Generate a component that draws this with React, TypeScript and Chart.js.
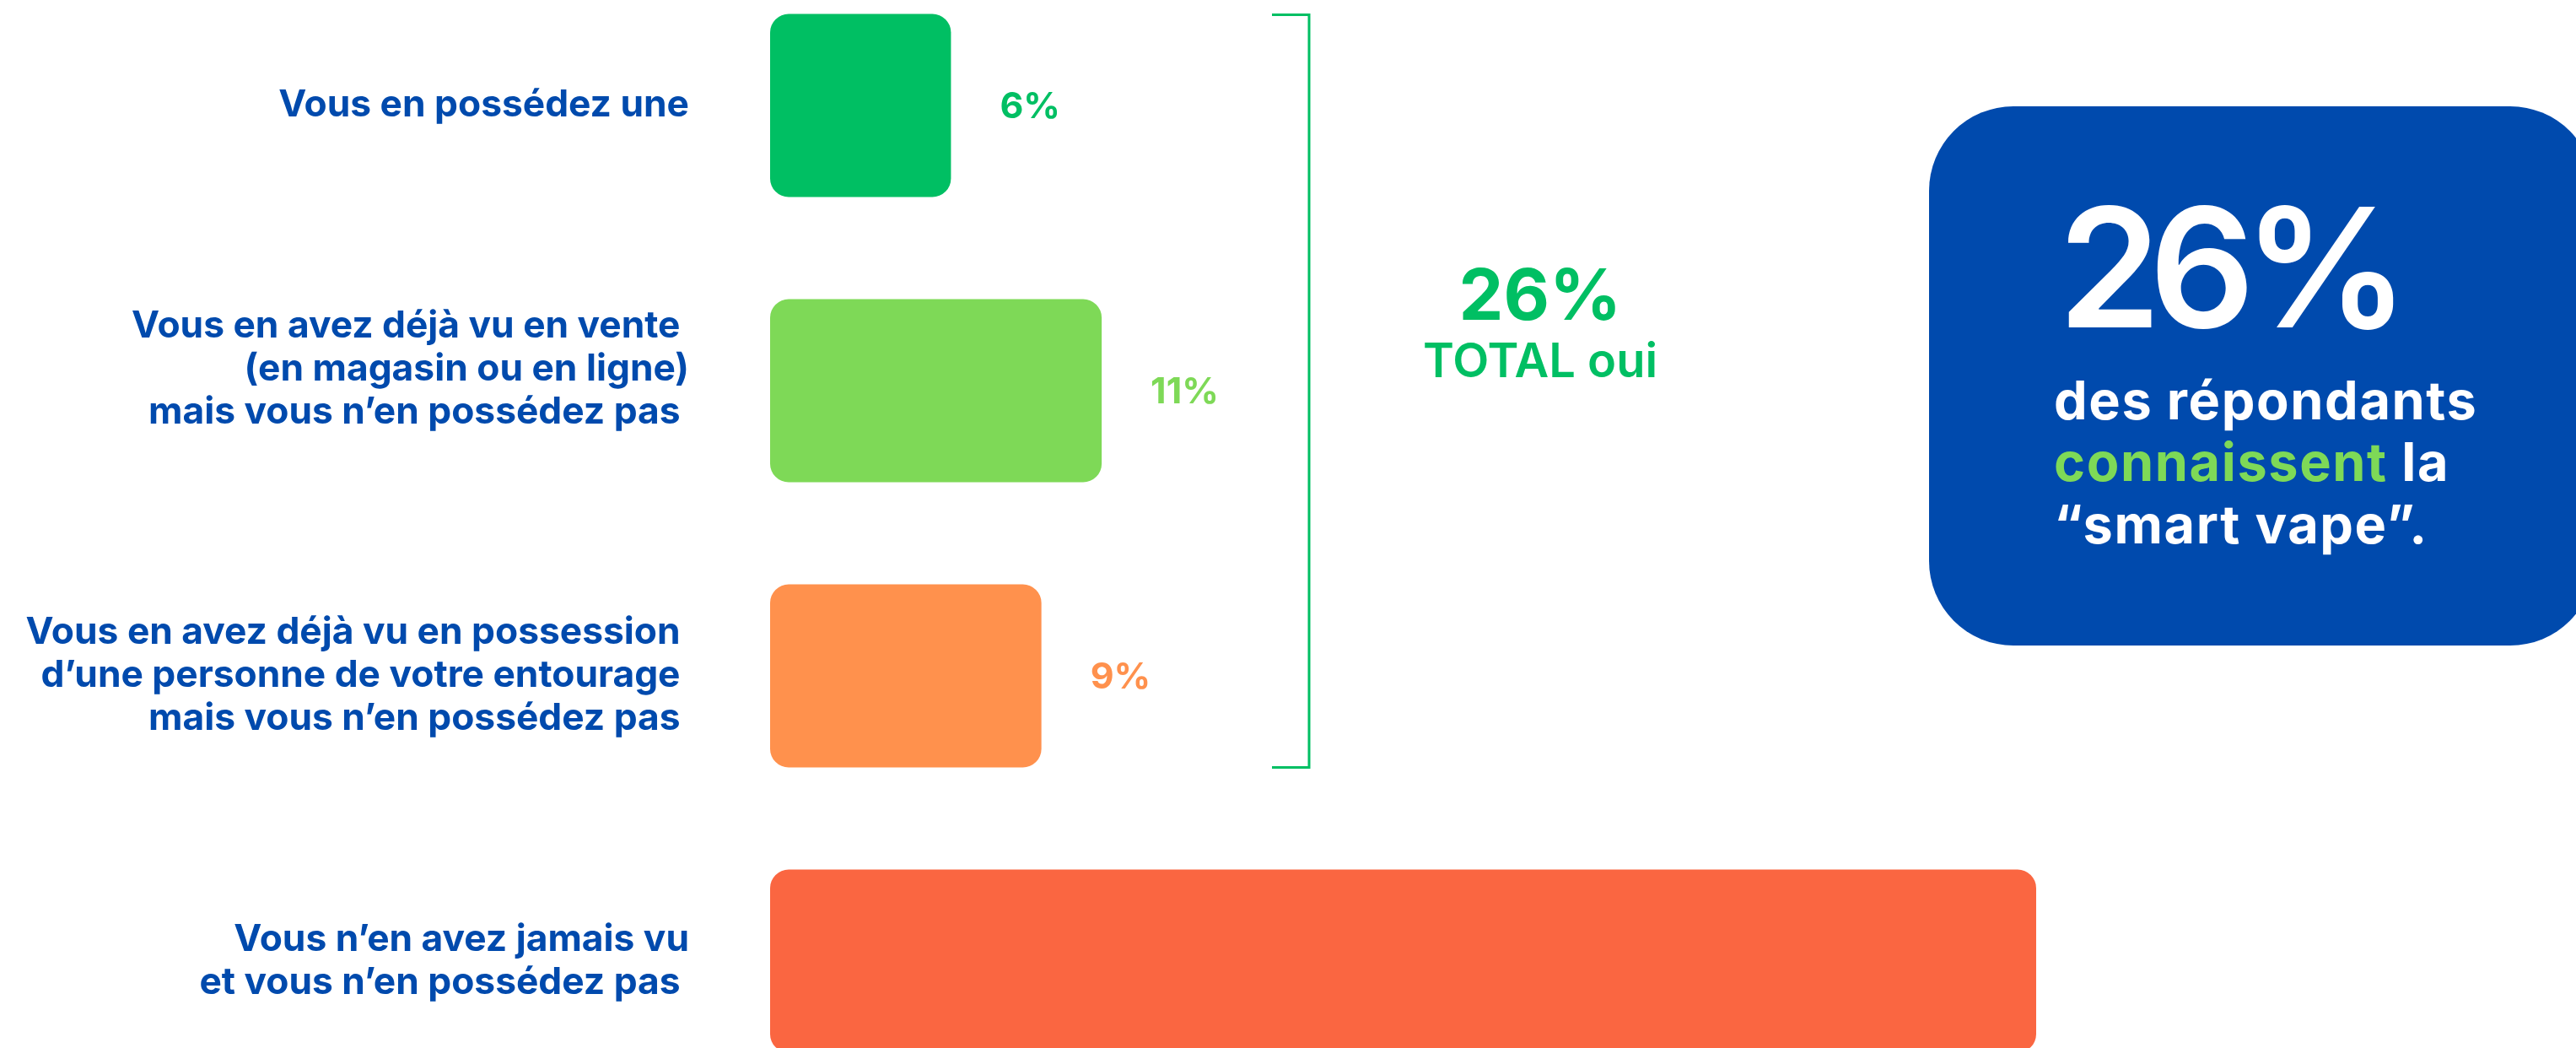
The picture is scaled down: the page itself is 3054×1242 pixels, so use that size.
import { useEffect, useRef } from 'react';
import { Chart, registerables } from 'chart.js';

Chart.register(...registerables);

// ---------- data ----------
const categories: string[][] = [
  ['Vous en possédez une'],
  ['Vous en avez déjà vu en vente ', '(en magasin ou en ligne)', 'mais vous n’en possédez pas ', ''],
  ['Vous en avez déjà vu en possession ', 'd’une personne de votre entourage ', 'mais vous n’en possédez pas '],
  ['Vous n’en avez jamais vu', 'et vous n’en possédez pas '],
];
const shares = [6, 11, 9, 74];
const valueLabels = ['6%', '11%', '9%', ''];
const barColors = ['#00BF63', '#7ED957', '#FF914D', '#FA6641'];
const totalYesValue = '26%';
const totalYesCaption = 'TOTAL oui';
const calloutValue = '26%';
const calloutLine1 = 'des répondants';
const calloutLine2Green = 'connaissent';
const calloutLine2Rest = ' la';
const calloutLine3 = '“smart vape”.';

// axis is capped (broken-axis style): longer bars stop at the cap
const X_MAX = 42;

const BLUE = '#004AAD';
const GREEN = '#00BF63';
const LIGHT_GREEN = '#7ED957';
const FONT = 'Inter, "DejaVu Sans", sans-serif';

const W = 3054;
const H = 1352;
const SHIFT = 44; // canvas sits 44px above the page top

const overlay = {
  id: 'overlay',
  afterDatasetsDraw(chart: any) {
    const ctx: any = chart.ctx;
    const els: any[] = chart.getDatasetMeta(0).data;
    ctx.save();

    // value labels
    ctx.font = `700 43px ${FONT}`;
    ctx.textAlign = 'left';
    ctx.textBaseline = 'middle';
    els.forEach((el, i) => {
      if (!valueLabels[i]) return;
      ctx.fillStyle = barColors[i];
      ctx.fillText(valueLabels[i], el.x + 58, el.y + 2);
    });

    // bracket around the "yes" bars
    const top = els[0].y - els[0].height / 2 + 1;
    const bottom = els[2].y + els[2].height / 2;
    const bx = 1552;
    ctx.strokeStyle = GREEN;
    ctx.lineWidth = 3;
    ctx.beginPath();
    ctx.moveTo(bx - 44, top);
    ctx.lineTo(bx, top);
    ctx.lineTo(bx, bottom);
    ctx.lineTo(bx - 44, bottom);
    ctx.stroke();

    // total text
    const mid = (top + bottom) / 2;
    ctx.textAlign = 'center';
    ctx.textBaseline = 'alphabetic';
    ctx.fillStyle = GREEN;
    ctx.font = `700 84px ${FONT}`;
    ctx.fillText(totalYesValue, 1826, mid - 85);
    ctx.font = `600 56px ${FONT}`;
    ctx.fillText(totalYesCaption, 1826, mid - 17);

    // callout box
    const bxL = 2287, byT = 126 + SHIFT, bxR = 3076, byB = 765 + SHIFT, r = 100;
    ctx.fillStyle = BLUE;
    ctx.beginPath();
    ctx.roundRect(bxL, byT, bxR - bxL, byB - byT, r);
    ctx.fill();

    ctx.textAlign = 'left';
    ctx.fillStyle = '#FFFFFF';
    ctx.font = `600 196px ${FONT}`;
    ctx.letterSpacing = '-14px';
    ctx.fillText(calloutValue, 2440, 388 + SHIFT);

    ctx.font = `700 63px ${FONT}`;
    ctx.letterSpacing = '1.6px';
    const tx = 2435;
    ctx.fillText(calloutLine1, tx, 497 + SHIFT);
    ctx.fillStyle = LIGHT_GREEN;
    ctx.fillText(calloutLine2Green, tx, 570 + SHIFT);
    const gw = ctx.measureText(calloutLine2Green).width;
    ctx.fillStyle = '#FFFFFF';
    ctx.fillText(calloutLine2Rest, tx + gw, 570 + SHIFT);
    ctx.fillText(calloutLine3, tx, 644 + SHIFT);
    ctx.letterSpacing = '0px';

    ctx.restore();
  },
};

export default function App() {
  const ref = useRef<HTMLCanvasElement | null>(null);

  useEffect(() => {
    const canvas = ref.current;
    if (!canvas) return;
    const chart = new Chart(canvas, {
      type: 'bar',
      data: {
        labels: categories as any,
        datasets: [
          {
            data: shares.map((v) => Math.min(v, X_MAX)),
            backgroundColor: barColors,
            borderRadius: 22,
            borderSkipped: false,
            barPercentage: 0.642,
            categoryPercentage: 1,
          },
        ],
      },
      options: {
        indexAxis: 'y',
        responsive: false,
        animation: false,
        events: [],
        layout: { padding: { left: 0, right: 640, top: 0, bottom: 0 } },
        plugins: { legend: { display: false }, tooltip: { enabled: false } },
        scales: {
          x: { display: false, min: 0, max: X_MAX },
          y: {
            grid: { display: false, drawTicks: false },
            border: { display: false },
            ticks: {
              color: BLUE,
              autoSkip: false,
              padding: 96,
              font: { family: FONT, size: 44.3, weight: 'bold', lineHeight: 51 / 44.3 },
            },
            afterFit: (s: any) => {
              s.width = 913;
              s.paddingTop = 0;
              s.paddingBottom = 0;
            },
          },
        },
      },
      plugins: [overlay],
    });
    return () => chart.destroy();
  }, []);

  return (
    <div
      style={{
        position: 'absolute',
        left: 0,
        top: 0,
        width: W,
        height: 1242,
        overflow: 'hidden',
        background: '#FFFFFF',
      }}
    >
      <canvas
        ref={ref}
        width={W}
        height={H}
        style={{ position: 'absolute', left: 0, top: -SHIFT, width: W, height: H }}
      />
    </div>
  );
}
